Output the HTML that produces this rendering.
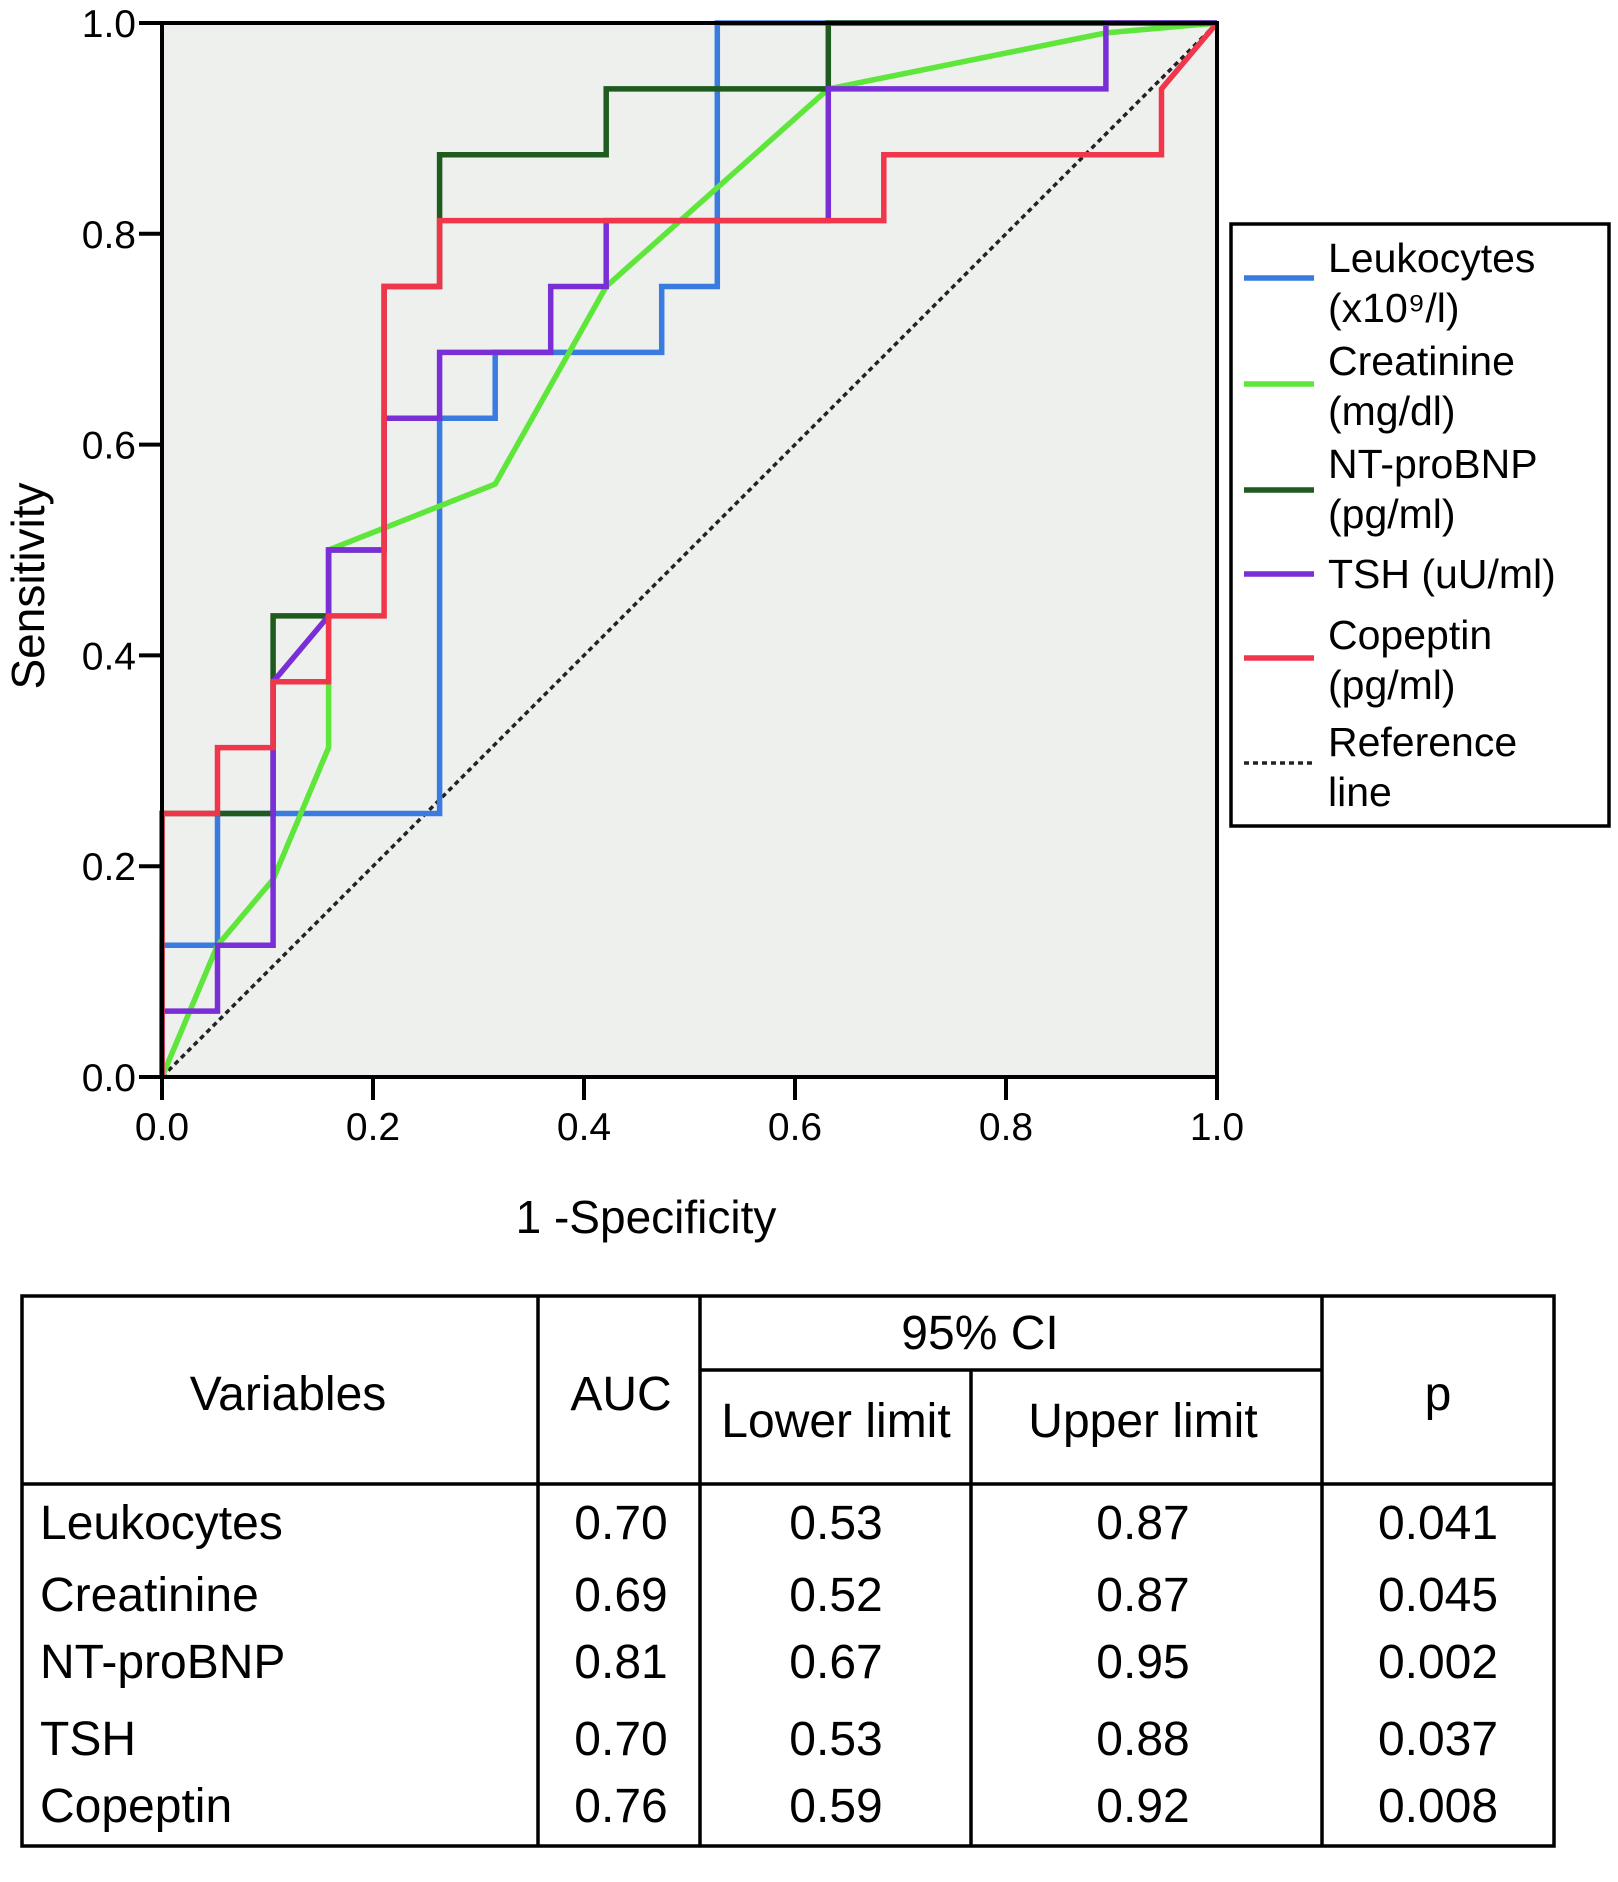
<!DOCTYPE html>
<html><head><meta charset="utf-8"><style>
html,body{margin:0;padding:0;background:#fff;}
svg{display:block;font-family:"Liberation Sans",Arial,sans-serif;}
</style></head><body>
<svg id="chart" width="1618" height="1882" viewBox="0 0 1618 1882" xmlns="http://www.w3.org/2000/svg">
<rect x="162" y="23" width="1055" height="1054" fill="#eef0ee"/>
<g id="series"></g>
<rect x="162" y="23" width="1055" height="1054" fill="none" stroke="#000" stroke-width="4"/>
<g id="axes"></g>
<text x="646" y="1233" font-size="46" text-anchor="middle">1 -Specificity</text>
<text transform="translate(44,586) rotate(-90)" font-size="46" text-anchor="middle">Sensitivity</text>
<g id="legend">
<rect x="1231" y="224" width="378" height="602" fill="#fff" stroke="#000" stroke-width="3.5"/>
</g>
<g font-size="48" stroke="#000" stroke-width="3.5">
<rect x="22" y="1296" width="1532" height="550" fill="none"/>
<line x1="538" y1="1296" x2="538" y2="1846"/>
<line x1="700" y1="1296" x2="700" y2="1846"/>
<line x1="971" y1="1370" x2="971" y2="1846"/>
<line x1="1322" y1="1296" x2="1322" y2="1846"/>
<line x1="700" y1="1370" x2="1322" y2="1370"/>
<line x1="22" y1="1484" x2="1554" y2="1484"/>
<g stroke="none" fill="#000" text-anchor="middle">
<text x="288" y="1410">Variables</text>
<text x="621" y="1410">AUC</text>
<text x="980" y="1349">95% CI</text>
<text x="836" y="1437">Lower limit</text>
<text x="1143" y="1437">Upper limit</text>
<text x="1438" y="1410">p</text>
</g>
<g id="rows" stroke="none" fill="#000"></g>
</g>
</svg>
<script>
const ticks=[0,0.2,0.4,0.6,0.8,1.0];
const tickLabels=["0.0","0.2","0.4","0.6","0.8","1.0"];
const seriesNames=["Leukocytes","Creatinine","NT-proBNP","TSH","Copeptin"];
const legendLabels=[["Leukocytes","(x10\u2079/l)"],["Creatinine","(mg/dl)"],["NT-proBNP","(pg/ml)"],["TSH (uU/ml)"],["Copeptin","(pg/ml)"],["Reference","line"]];
const colors=["#3a7be0","#5ee63a","#1f5a1f","#7a2fd6","#f0364a"];
// points in units (i/19 FPR, j/16 TPR)
const leukoX=[0,0,1,1,5,5,6,6,9,9,10,10,19];
const leukoY=[0,2,2,4,4,10,10,11,11,12,12,16,16];
const creatX=[0,1,2,3,3,6,8,12,17,19];
const creatY=[0,2,3,5,8,9,12,15,15.85,16];
const ntX=[0,0,2,2,3,3,4,4,5,5,8,8,12,12,19];
const ntY=[0,4,4,7,7,8,8,12,12,14,14,15,15,16,16];
const tshX=[0,0,1,1,2,2,3,3,4,4,5,5,7,7,8,8,12,12,17,17,19];
const tshY=[0,1,1,2,2,6,7,8,8,10,10,11,11,12,12,13,13,15,15,16,16];
const copX=[0,0,1,1,2,2,3,3,4,4,5,5,13,13,18,18,19];
const copY=[0,4,4,5,5,6,6,7,7,12,12,13,13,14,14,15,16];
const tableRows=[["Leukocytes","0.70","0.53","0.87","0.041"],["Creatinine","0.69","0.52","0.87","0.045"],["NT-proBNP","0.81","0.67","0.95","0.002"],["TSH","0.70","0.53","0.88","0.037"],["Copeptin","0.76","0.59","0.92","0.008"]];
const NS="http://www.w3.org/2000/svg";
const X0=162,X1=1217,Y0=1077,Y1=23;
const sx=v=>X0+v*(X1-X0), sy=v=>Y0-v*(Y0-Y1);
function mk(t,a,p){const e=document.createElementNS(NS,t);for(const k in a)e.setAttribute(k,a[k]);p.appendChild(e);return e;}
const ser=document.getElementById('series');
const ref=mk('line',{x1:sx(0),y1:sy(0),x2:sx(1),y2:sy(1),stroke:'#222','stroke-width':3.5,'stroke-dasharray':'5,4'},ser);


const data=[[leukoX,leukoY],[creatX,creatY],[ntX,ntY],[tshX,tshY],[copX,copY]];
[0,1,2,3,4].forEach(i=>{const [xs,ys]=data[i];
 const pts=xs.map((x,k)=>sx(x/19).toFixed(1)+','+sy(ys[k]/16).toFixed(1)).join(' ');
 const pl=mk('polyline',{points:pts,fill:'none',stroke:colors[i],'stroke-width':5.5,'stroke-linejoin':'miter'},ser);
 
 
});
const ax=document.getElementById('axes');
ticks.forEach((t,k)=>{
 const a=mk('line',{x1:sx(t),y1:Y0,x2:sx(t),y2:Y0+23,stroke:'#000','stroke-width':4},ax);
 
 
 const b=mk('text',{x:sx(t),y:Y0+63,'font-size':39,'text-anchor':'middle'},ax);b.textContent=tickLabels[k];
 
 
 const c=mk('line',{x1:X0-23,y1:sy(t),x2:X0,y2:sy(t),stroke:'#000','stroke-width':4},ax);
 
 
 const d=mk('text',{x:X0-26,y:sy(t)+14,'font-size':39,'text-anchor':'end'},ax);d.textContent=tickLabels[k];
 
 
});
const lg=document.getElementById('legend');
const lineYs=[278,384,490,574,658,763];
const textYs=[[272,322],[375,425],[478,528],[588],[649,699],[756,806]];
legendLabels.forEach((lab,i)=>{
 const l=mk('line',{x1:1244,y1:lineYs[i],x2:1314,y2:lineYs[i],stroke:i<5?colors[i]:'#222','stroke-width':i<5?5.5:3.5},lg);
 if(i==5)l.setAttribute('stroke-dasharray','5,4');
 
 
 lab.forEach((s,j)=>{const t=mk('text',{x:1328,y:textYs[i][j],'font-size':41},lg);t.textContent=s;
 
 });
});
const rows=document.getElementById('rows');
const rowYs=[1539,1611,1678,1755,1822];
const colX=[40,621,836,1143,1438];
tableRows.forEach((r,i)=>{r.forEach((s,j)=>{
 const t=mk('text',{x:colX[j],y:rowYs[i],'text-anchor':j==0?'start':'middle'},rows);t.textContent=s;
 
 
});});
</script>
</body></html>
